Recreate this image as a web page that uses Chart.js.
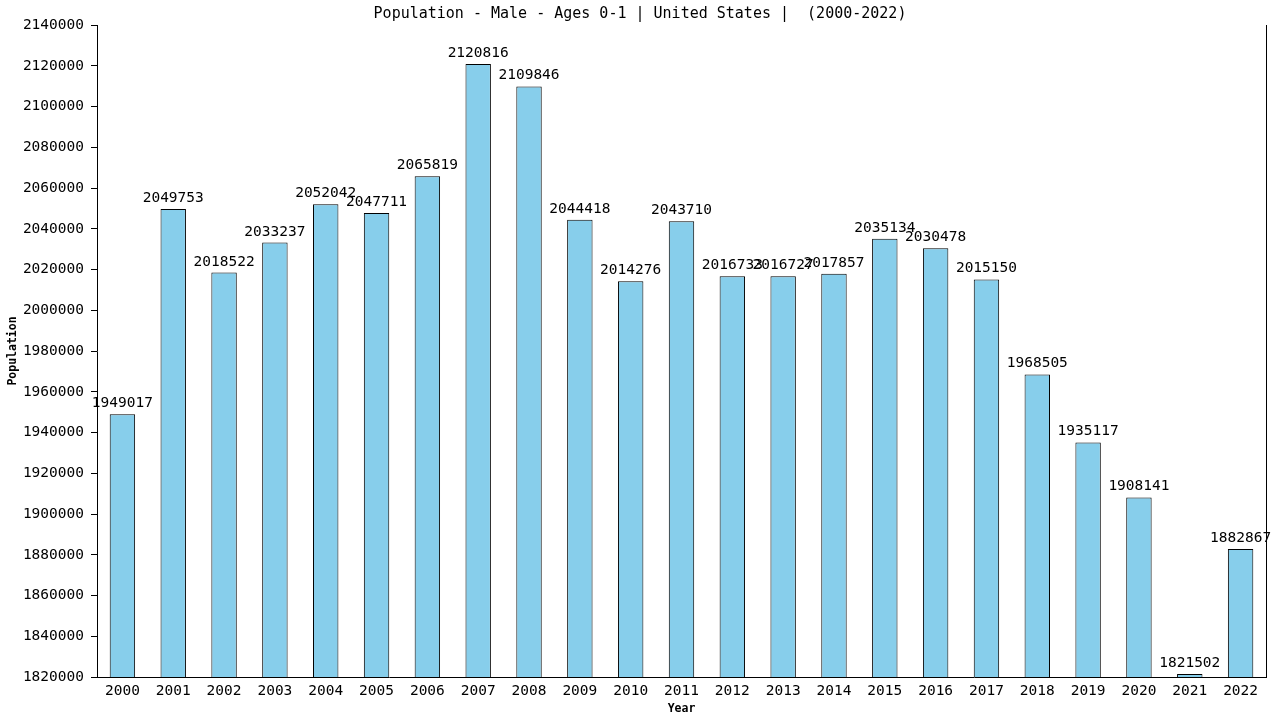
<!DOCTYPE html>
<html>
<head>
<meta charset="utf-8">
<script src="https://cdn.jsdelivr.net/npm/chart.js@4"></script>
<style>
  body { margin: 0; background: #fff; }
  #wrap { width: 1280px; height: 720px; }
</style>
</head>
<body>
<div id="wrap"><canvas id="population-chart"></canvas></div>
<script>
  var years = ['2000', '2001', '2002', '2003', '2004', '2005', '2006', '2007', '2008', '2009', '2010', '2011',
    '2012', '2013', '2014', '2015', '2016', '2017', '2018', '2019', '2020', '2021', '2022'];
  var population = [1949017, 2049753, 2018522, 2033237, 2052042, 2047711, 2065819, 2120816, 2109846, 2044418,
    2014276, 2043710, 2016733, 2016727, 2017857, 2035134, 2030478, 2015150, 1968505, 1935117, 1908141, 1821502, 1882867];
  var yMin = 1820000;
  var yMax = 2140000;
  var yStep = 20000;
  var chartTitle = 'Population - Male - Ages 0-1 | United States |  (2000-2022)';

  var monoFont = "'DejaVu Sans Mono', monospace";

  // value above each bar
  var barLabels = {
    id: 'barLabels',
    afterDatasetsDraw: function (chart) {
      var ctx = chart.ctx;
      var meta = chart.getDatasetMeta(0);
      ctx.save();
      ctx.font = '14.5px ' + monoFont;
      ctx.fillStyle = '#000';
      ctx.textAlign = 'center';
      ctx.textBaseline = 'alphabetic';
      meta.data.forEach(function (bar, i) {
        ctx.fillText(String(chart.data.datasets[0].data[i]), bar.x, bar.y - 7);
      });
      ctx.restore();
    }
  };

  // right edge line of the plot + title centred on the whole canvas
  var frameAndTitle = {
    id: 'frameAndTitle',
    afterDraw: function (chart) {
      var a = chart.chartArea;
      var ctx = chart.ctx;
      ctx.save();
      ctx.strokeStyle = '#000';
      ctx.lineWidth = 1;
      ctx.beginPath();
      ctx.moveTo(Math.round(a.right) + 0.5, a.top);
      ctx.lineTo(Math.round(a.right) + 0.5, a.bottom);
      ctx.stroke();

      ctx.font = '15px ' + monoFont;
      ctx.fillStyle = '#000';
      ctx.textAlign = 'center';
      ctx.textBaseline = 'middle';
      ctx.fillText(chartTitle, chart.width / 2, 14);
      ctx.restore();
    }
  };

  var chartContext = document.getElementById('population-chart');

  var populationChart = new Chart(chartContext, {
    type: 'bar',
    data: {
      labels: years,
      datasets: [
        {
          data: population,
          backgroundColor: '#87CEEB',
          borderColor: '#000',
          borderWidth: 1,
          barPercentage: 0.5,
          categoryPercentage: 1.0
        }
      ]
    },
    options: {
      responsive: true,
      maintainAspectRatio: false,
      animation: false,
      layout: { padding: { left: 0, right: 14, top: 25, bottom: 0 } },
      plugins: {
        legend: { display: false },
        tooltip: { enabled: false },
        title: { display: false }
      },
      scales: {
        x: {
          grid: { display: false, drawTicks: false },
          border: { display: true, color: '#000', width: 1 },
          ticks: { color: '#000', font: { family: monoFont, size: 14.5 }, padding: 6, maxRotation: 0, autoSkip: false },
          title: {
            display: true,
            text: 'Year',
            color: '#000',
            font: { family: monoFont, size: 11.5, weight: 'bold' },
            padding: { top: 0, bottom: 4 }
          },
          afterFit: function (scale) { scale.height = 43; }
        },
        y: {
          min: yMin,
          max: yMax,
          grid: { display: true, drawOnChartArea: false, drawTicks: true, tickLength: 6, color: '#000' },
          border: { display: true, color: '#000', width: 1 },
          ticks: {
            stepSize: yStep,
            color: '#000',
            padding: 7,
            font: { family: monoFont, size: 14.5 },
            callback: function (value) { return String(value); }
          },
          title: {
            display: true,
            text: 'Population',
            color: '#000',
            font: { family: monoFont, size: 11.5, weight: 'bold' },
            padding: { top: 6, bottom: 0 }
          },
          afterFit: function (scale) { scale.width = 97; }
        }
      }
    },
    plugins: [barLabels, frameAndTitle]
  });
</script>
</body>
</html>
